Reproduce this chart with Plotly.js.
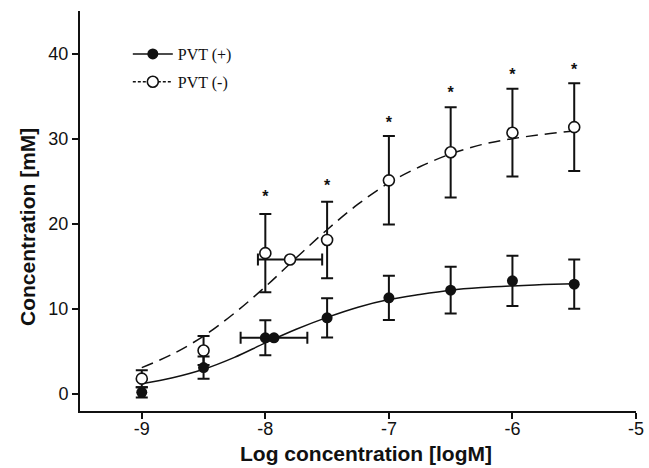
<!DOCTYPE html>
<html>
<head>
<meta charset="utf-8">
<script src="https://cdn.plot.ly/plotly-3.0.1.min.js"></script>
<style>html,body{margin:0;padding:0;background:#fff;}#chart{width:649px;height:468px;}</style>
</head>
<body>
<div id="chart"></div>
<script>
// Measured points: PVT (+)
var xDose = [-9, -8.5, -8, -7.5, -7, -6.5, -6, -5.5];
var posY = [0.2, 3.1, 6.6, 8.95, 11.3, 12.2, 13.3, 12.9];
var posErr = [0.6, 1.3, 2.05, 2.3, 2.6, 2.75, 2.95, 2.9];
// Measured points: PVT (-)
var negY = [1.8, 5.1, 16.55, 18.1, 25.1, 28.4, 30.7, 31.35];
var negErr = [1.0, 1.7, 4.6, 4.5, 5.2, 5.3, 5.15, 5.15];
// EC50 points with horizontal error
var posEcX = [-7.93];
var posEcY = [6.6];
var posEcErr = [0.27];
var negEcX = [-7.8];
var negEcY = [15.8];
var negEcErr = [0.26];
// Fitted curves
var curveX = [-9, -8.75, -8.5, -8.25, -8, -7.75, -7.5, -7.25, -7, -6.75, -6.5, -6.25, -6, -5.75, -5.5];
var posCurve = [1.2, 1.9, 2.9, 4.3, 6.0, 7.6, 9.0, 10.2, 11.1, 11.7, 12.2, 12.5, 12.7, 12.85, 12.95];
var negCurve = [3.1, 4.7, 6.8, 9.5, 12.6, 16.0, 19.3, 22.3, 24.8, 26.7, 28.2, 29.3, 30.0, 30.5, 30.9];
// Significance markers
var starX = [-8, -7.5, -7, -6.5, -6, -5.5];
var starY = [23.0, 24.35, 31.7, 35.2, 37.4, 38.0];
var starText = ['*', '*', '*', '*', '*', '*'];
var legendNames = ['PVT (+)', 'PVT (-)'];
var xTitle = 'Log concentration [logM]';
var yTitle = 'Concentration [mM]';

var ink = '#111';
var errStyle = {color: ink, thickness: 2, width: 6};
function yErr(a){ return Object.assign({type: 'data', array: a, visible: true}, errStyle); }
function xErr(a){ return Object.assign({type: 'data', array: a, visible: true}, errStyle); }

var traces = [
  {x: curveX, y: negCurve, mode: 'lines', line: {color: ink, width: 1.5, dash: '12px,7px', shape: 'spline'}, showlegend: false, hoverinfo: 'skip'},
  {x: curveX, y: posCurve, mode: 'lines', line: {color: ink, width: 1.5, shape: 'spline'}, showlegend: false, hoverinfo: 'skip'},
  {x: xDose, y: posY, mode: 'markers', error_y: yErr(posErr), marker: {color: ink, size: 11, symbol: 'circle'}, showlegend: false},
  {x: posEcX, y: posEcY, mode: 'markers', error_x: xErr(posEcErr), marker: {color: ink, size: 11, symbol: 'circle'}, showlegend: false},
  {x: xDose, y: negY, mode: 'markers', error_y: yErr(negErr), marker: {color: '#fff', size: 11, symbol: 'circle', line: {color: ink, width: 1.6}}, showlegend: false},
  {x: negEcX, y: negEcY, mode: 'markers', error_x: xErr(negEcErr), marker: {color: '#fff', size: 11, symbol: 'circle', line: {color: ink, width: 1.6}}, showlegend: false},
  {x: starX, y: starY, mode: 'text', text: starText, textposition: 'middle center', textfont: {family: 'Liberation Sans, Arial', size: 16, color: ink, weight: 'bold'}, showlegend: false, hoverinfo: 'skip'},
  {x: [null], y: [null], mode: 'lines+markers', name: legendNames[0], legendgroup: 'a', line: {color: ink, width: 1.5}, marker: {color: ink, size: 11}},
  {x: [null], y: [null], mode: 'lines+markers', name: legendNames[1], legendgroup: 'b', line: {color: ink, width: 1.5, dash: '3px,2px'}, marker: {color: '#fff', size: 11, line: {color: ink, width: 1.6}}}
];

var titleFont = {family: 'Liberation Sans, Arial', size: 21, color: ink, weight: 'bold'};

var layout = {
  width: 649, height: 468,
  margin: {l: 80, r: 13, t: 11, b: 57},
  paper_bgcolor: '#fff', plot_bgcolor: '#fff',
  showlegend: true,
  legend: {x: 0.086, y: 0.935, xanchor: 'left', yanchor: 'top', bgcolor: 'rgba(0,0,0,0)', font: {family: 'Liberation Serif, Times New Roman, serif', size: 16, color: ink}, itemwidth: 40, tracegroupgap: 4},
  xaxis: {
    range: [-9.5, -5], tickvals: [-9, -8, -7, -6, -5], ticktext: ['-9', '-8', '-7', '-6', '-5'],
    showgrid: false, zeroline: false, showline: true, linecolor: ink, linewidth: 2,
    ticks: 'outside', ticklen: 6, tickwidth: 2, tickcolor: ink, ticklabelstandoff: -6,
    tickfont: {family: 'Liberation Sans, Arial', size: 18, color: ink}
  },
  yaxis: {
    range: [-2, 45], tickvals: [0, 10, 20, 30, 40],
    showgrid: false, zeroline: false, showline: true, linecolor: ink, linewidth: 2,
    ticks: 'outside', ticklen: 6, tickwidth: 2, tickcolor: ink,
    tickfont: {family: 'Liberation Sans, Arial', size: 18, color: ink}
  },
  annotations: [
    {xref: 'paper', yref: 'paper', x: 0.515, y: 0, yshift: -56, xanchor: 'center', yanchor: 'bottom', text: xTitle, showarrow: false, font: titleFont},
    {xref: 'paper', yref: 'paper', x: 0, xshift: -53, y: 0.46, xanchor: 'center', yanchor: 'middle', text: yTitle, textangle: -90, showarrow: false, font: titleFont}
  ]
};

Plotly.newPlot('chart', traces, layout, {displayModeBar: false, staticPlot: true});
</script>
</body>
</html>
